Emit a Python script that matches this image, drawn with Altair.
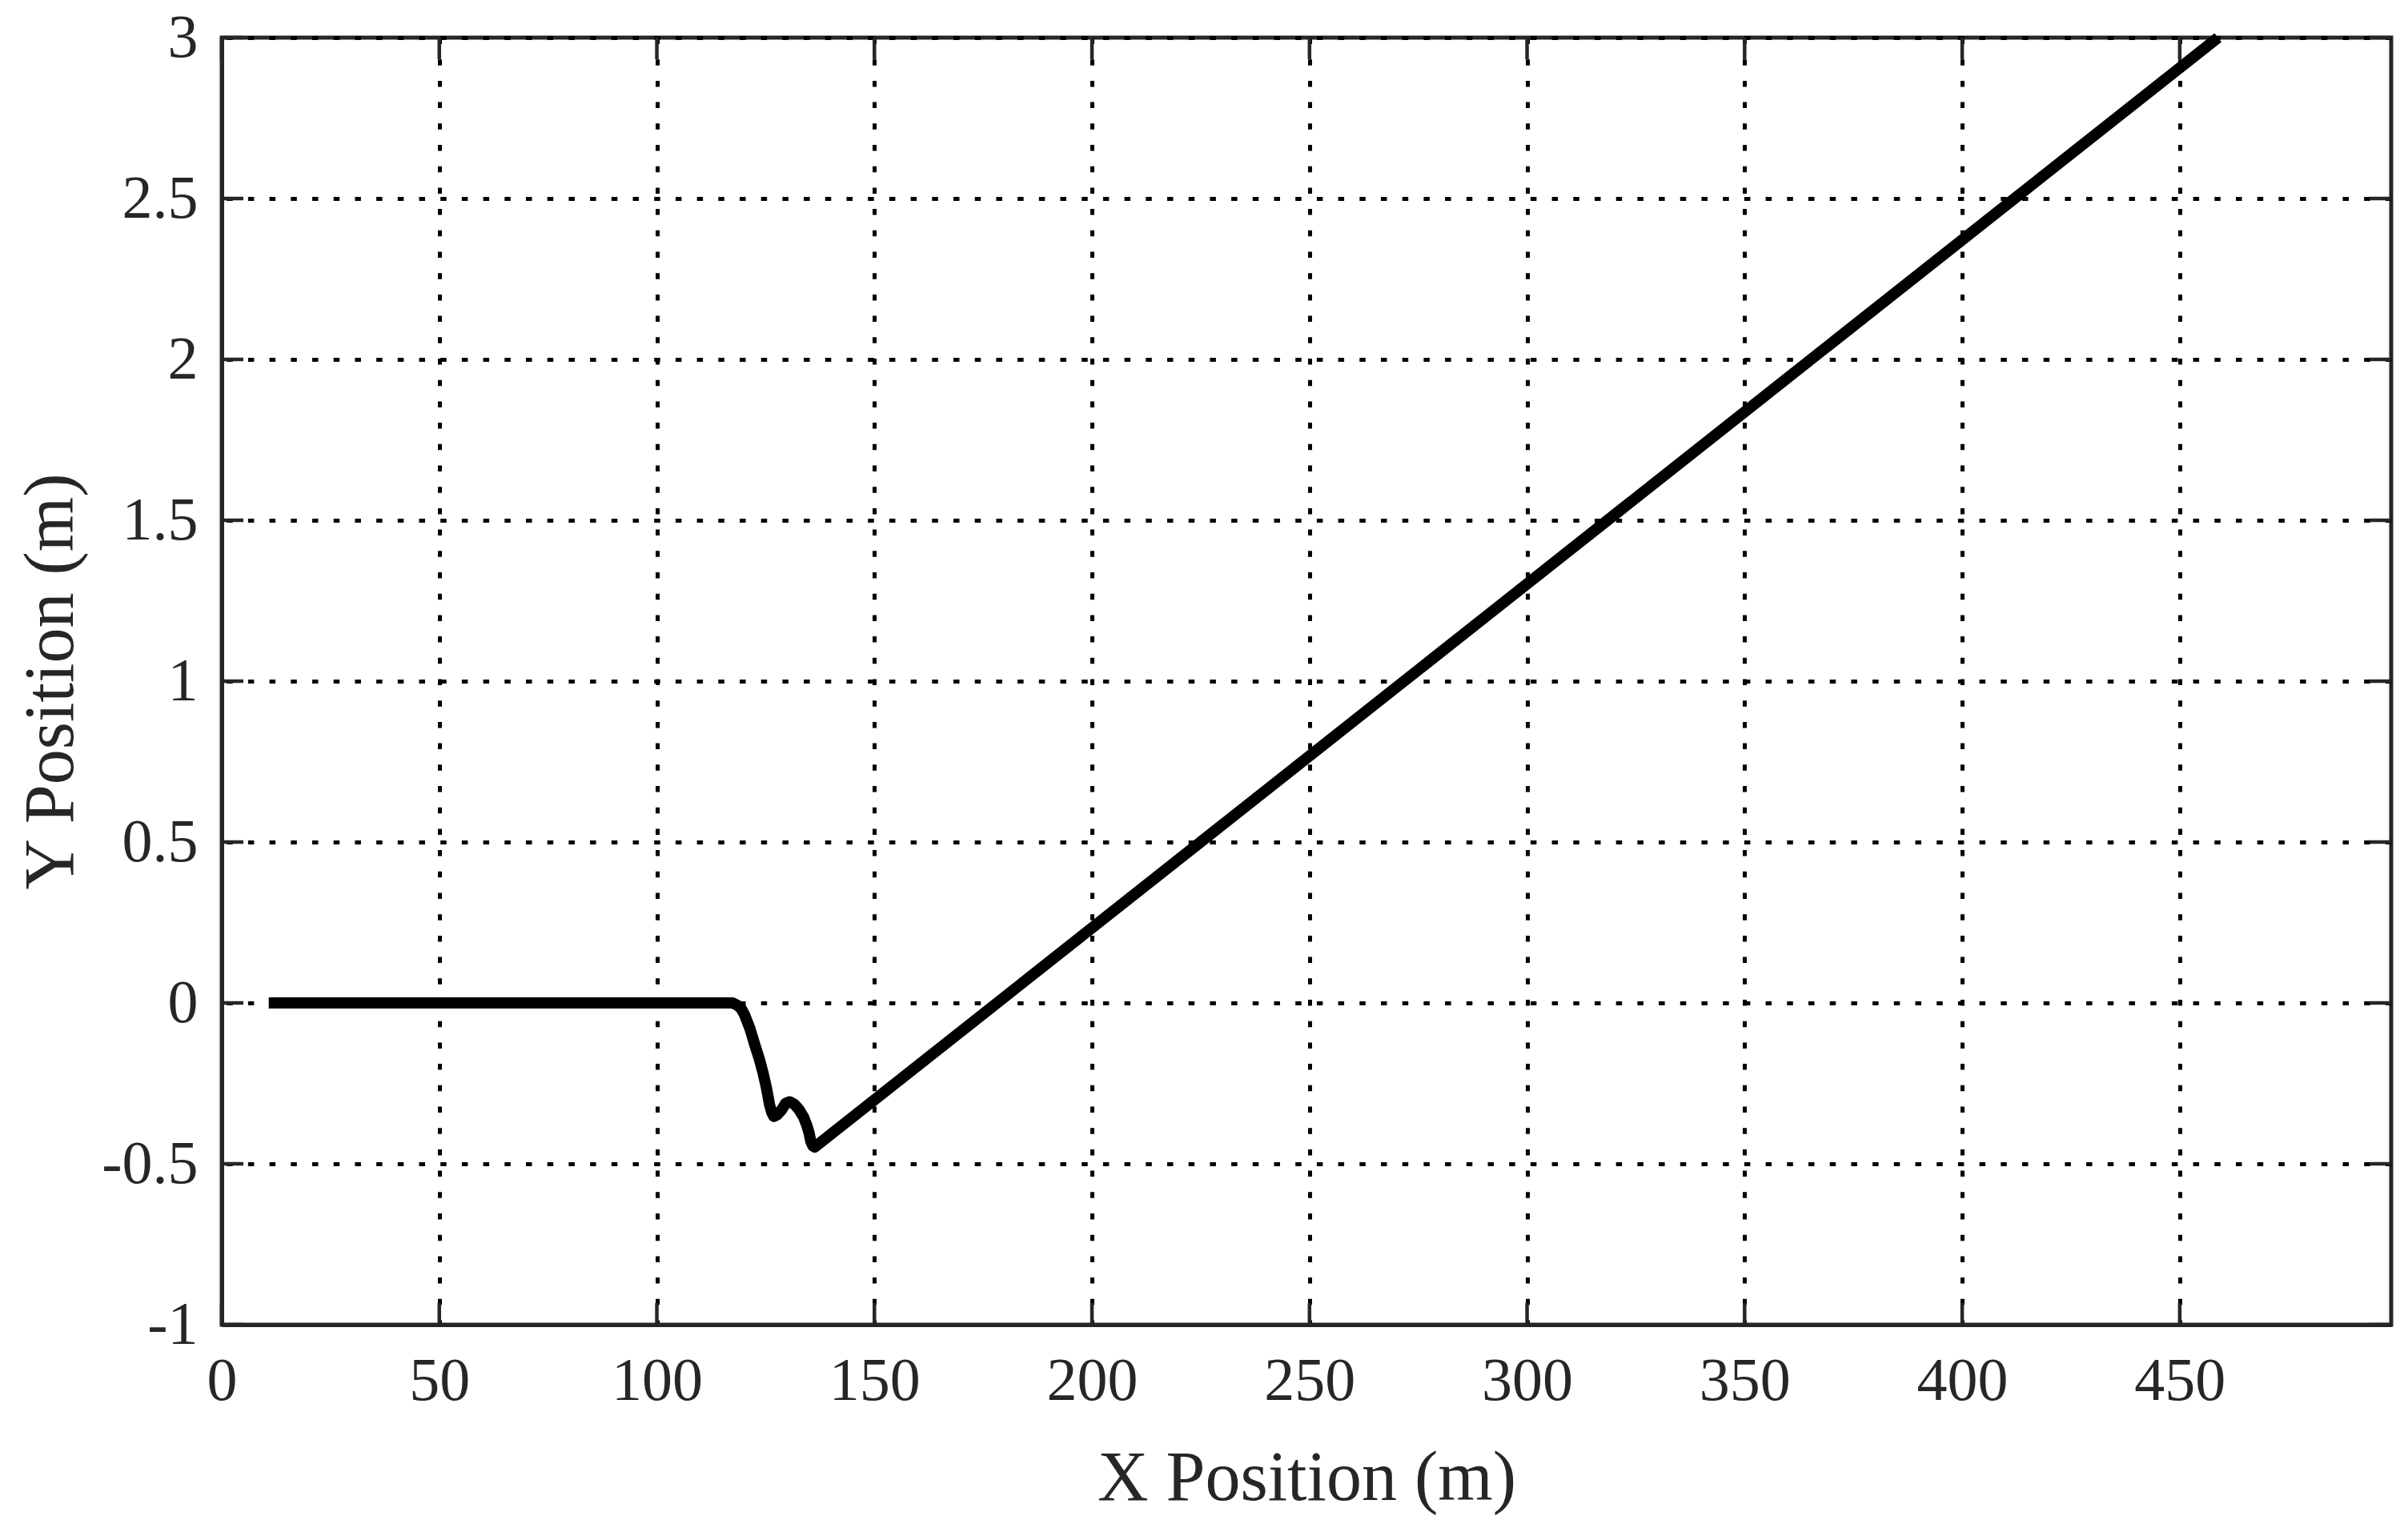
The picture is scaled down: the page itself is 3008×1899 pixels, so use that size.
import altair as alt
import pandas as pd

# trajectory
x_pos = [10.8, 117.4, 118.6, 119.4, 120.1, 121.4, 122.6, 123.5, 124.4, 125.2, 125.9,
         126.4, 126.9, 127.6, 128.7, 129.6, 130.5, 131.6, 132.7, 133.7, 134.5,
         135.0, 135.4, 135.9, 136.3, 458.8]
y_pos = [0.0, 0.0, -0.008, -0.018, -0.035, -0.080, -0.134, -0.172, -0.217, -0.265, -0.316,
         -0.340, -0.353, -0.348, -0.332, -0.312, -0.307, -0.315, -0.332, -0.354, -0.382,
         -0.405, -0.431, -0.445, -0.448, 3.0]

x_ticks = [0, 50, 100, 150, 200, 250, 300, 350, 400, 450]
y_ticks = [-1, -0.5, 0, 0.5, 1, 1.5, 2, 2.5, 3]

X_MAX = 498.6
W, H = 2710, 1608
AX = "#262626"
FONT = "Liberation Serif"
TICK_LEN = 27

line_df = pd.DataFrame({"x": x_pos, "y": y_pos})
xt_df = pd.DataFrame({"x": x_ticks})
yt_df = pd.DataFrame({"y": y_ticks})

xscale = alt.Scale(domain=[0, X_MAX], nice=False, zero=False)
yscale = alt.Scale(domain=[-1, 3], nice=False, zero=False)

common = dict(
    grid=True, ticks=False, tickSize=0,
    labelFontSize=76, labelFont=FONT, labelColor=AX, labelFlush=False,
    labelExpr="datum.value + ''",
    titleFont=FONT, titleFontSize=88, titleFontWeight="normal", titleColor=AX,
    titleBaseline="alphabetic",
    domainColor=AX, domainWidth=5,
    gridColor="black", gridWidth=5, gridDash=[7.5, 19.2], gridOpacity=1,
)

xaxis = alt.Axis(
    title="X Position (m)", values=x_ticks, labelPadding=33,
    titleY=218, titleX=W / 2, **common,
)
yaxis = alt.Axis(
    title="Y Position (m)", values=y_ticks, labelPadding=30,
    titleX=-187, titleY=H / 2, titleAngle=-90, gridDashOffset=21, **common,
)

base_grid = alt.Chart(line_df).mark_line(opacity=0).encode(
    x=alt.X("x:Q", scale=xscale, axis=xaxis),
    y=alt.Y("y:Q", scale=yscale, axis=yaxis),
)

traj = alt.Chart(line_df).mark_line(
    color="black", strokeWidth=14, strokeCap="butt", strokeJoin="round",
    interpolate="linear", clip=False,
).encode(
    x=alt.X("x:Q", scale=xscale),
    y=alt.Y("y:Q", scale=yscale),
    order=alt.Order("x:Q"),
)

tick_style = dict(color=AX, strokeWidth=4.5)
xt_bottom = alt.Chart(xt_df).mark_rule(**tick_style).encode(
    x=alt.X("x:Q", scale=xscale), y=alt.value(H), y2=alt.value(H - TICK_LEN))
xt_top = alt.Chart(xt_df).mark_rule(**tick_style).encode(
    x=alt.X("x:Q", scale=xscale), y=alt.value(0), y2=alt.value(TICK_LEN))
yt_left = alt.Chart(yt_df).mark_rule(**tick_style).encode(
    y=alt.Y("y:Q", scale=yscale), x=alt.value(0), x2=alt.value(TICK_LEN))
yt_right = alt.Chart(yt_df).mark_rule(**tick_style).encode(
    y=alt.Y("y:Q", scale=yscale), x=alt.value(W), x2=alt.value(W - TICK_LEN))

chart = alt.layer(
    base_grid, xt_bottom, xt_top, yt_left, yt_right, traj
).properties(
    width=W, height=H,
    autosize=alt.AutoSizeParams(type="none"),
    padding={"left": 269, "top": 39, "right": 12, "bottom": 238},
    background="white",
).configure_view(
    stroke=AX, strokeWidth=5,
)

chart.save("out.html", embed_options={"renderer": "svg", "actions": False})
